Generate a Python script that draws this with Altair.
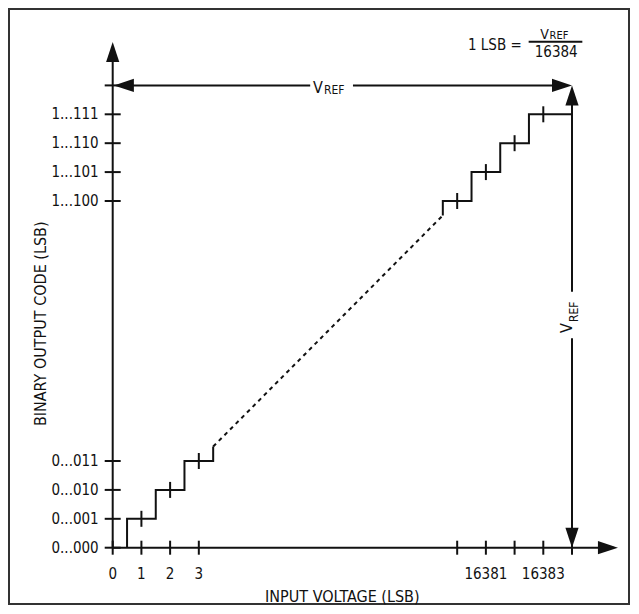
import altair as alt
import pandas as pd

# ---------------- data ----------------
x_tick_values = [0, 1, 2, 3, 16380, 16381, 16382, 16383, 16384]
x_tick_labels = ["0", "1", "2", "3", "", "16381", "", "16383", ""]
y_tick_values = [0, 1, 2, 3, 16380, 16381, 16382, 16383, 16384]
y_tick_labels = ["0...000", "0...001", "0...010", "0...011",
                 "1...100", "1...101", "1...110", "1...111", ""]
low_codes = [1, 2, 3]
high_codes = [16380, 16381, 16382, 16383]
full_scale = 16384          # V_REF expressed in LSB
x_title = "INPUT VOLTAGE (LSB)"
y_title = "BINARY OUTPUT CODE (LSB)"
lsb_text = "1 LSB ="
lsb_den = "16384"

# broken axes: values above the break are drawn shifted down by BREAK
BREAK = 16368


def P(v):
    return v - BREAK if v > 1000 else v


FONT = "DejaVu Sans Condensed, DejaVu Sans, sans-serif"
INK = "#111111"

W, H = 622, 597
xs = alt.Scale(domain=[0, 16], range=[104.7, 564.0], nice=False, zero=False, padding=0)
ys = alt.Scale(domain=[0, 15], range=[539.7, 106.3], nice=False, zero=False, padding=0)


def X(f="x"):
    return alt.X(f"{f}:Q", scale=xs, axis=None)


def Y(f="y"):
    return alt.Y(f"{f}:Q", scale=ys, axis=None)


# ---------------- staircase ----------------
rows = []
seg = [(0.5, 0)]
for k in low_codes:
    seg += [(k - 0.5, k), (k + 0.5, k)]
seg += [(low_codes[-1] + 0.5, low_codes[-1] + 0.5)]
for i, (a, b) in enumerate(seg):
    rows.append({"x": P(a), "y": P(b), "seg": "low", "i": i})
start = high_codes[0] - 0.5
seg = [(start, start)]
for k in high_codes:
    seg += [(k - 0.5, k), (full_scale if k == high_codes[-1] else k + 0.5, k)]
for i, (a, b) in enumerate(seg):
    rows.append({"x": P(a), "y": P(b), "seg": "high", "i": i})
stairs = pd.DataFrame(rows)

dash_df = pd.DataFrame({
    "x": [P(low_codes[-1] + 0.5), P(high_codes[0] - 0.5)],
    "y": [P(low_codes[-1] + 0.5), P(high_codes[0] - 0.5)],
    "i": [0, 1],
})

stair_layer = alt.Chart(stairs).mark_line(color=INK, strokeWidth=2, interpolate="linear").encode(
    x=X(), y=Y(), detail="seg:N", order="i:Q")
dash_layer = alt.Chart(dash_df).mark_line(color=INK, strokeWidth=2, strokeDash=[4, 4]).encode(
    x=X(), y=Y(), order="i:Q")

# ---------------- rules: axes, V_REF dimension lines, fraction bar ----------------
fs = P(full_scale)
rules = pd.DataFrame([
    {"x": 0, "x2": 17.45, "y": 0, "y2": 0},          # x axis
    {"x": 0, "x2": 0, "y": 0, "y2": 17.35},          # y axis
    {"x": 0.3, "x2": 6.88, "y": fs, "y2": fs},       # V_REF horizontal (left part)
    {"x": 8.37, "x2": fs - 0.3, "y": fs, "y2": fs},  # V_REF horizontal (right part)
    {"x": fs, "x2": fs, "y": 0.3, "y2": 7.25},       # V_REF vertical (lower part)
    {"x": fs, "x2": fs, "y": 8.86, "y2": fs - 0.3},  # V_REF vertical (upper part)
    {"x": 14.49, "x2": 16.36, "y": 17.51, "y2": 17.51},  # fraction bar
])
rule_layer = alt.Chart(rules).mark_rule(color=INK, strokeWidth=2).encode(
    x=X(), x2="x2:Q", y=Y(), y2="y2:Q")

# ---------------- tick marks ----------------
xt = pd.DataFrame({"x": [P(v) for v in x_tick_values], "y": 0, "lab": x_tick_labels})
yt = pd.DataFrame({"x": 0, "y": [P(v) for v in y_tick_values], "lab": y_tick_labels})
st = pd.DataFrame({"x": [P(k) for k in low_codes + high_codes],
                   "y": [P(k) for k in low_codes + high_codes]})

xtick_layer = alt.Chart(xt).mark_tick(orient="vertical", size=14, thickness=2, color=INK, opacity=1).encode(x=X(), y=Y())
ytick_layer = alt.Chart(yt).mark_tick(orient="horizontal", size=16, thickness=2, color=INK, opacity=1).encode(x=X(), y=Y())
stick_layer = alt.Chart(st).mark_tick(orient="vertical", size=16, thickness=2, color=INK, opacity=1).encode(x=X(), y=Y())

# ---------------- arrowheads ----------------
UP = "M0,0L0.33,1L-0.33,1Z"
DOWN = "M0,0L0.33,-1L-0.33,-1Z"
LEFT = "M0,0L1,-0.33L1,0.33Z"
RIGHT = "M0,0L-1,-0.33L-1,0.33Z"
arrows = pd.DataFrame({
    "x": [0, 17.6, 0.04, fs, fs, fs],
    "y": [17.5, 0, fs, fs, fs, 0],
    "shape": [UP, RIGHT, LEFT, RIGHT, UP, DOWN],
})
arrow_layer = alt.Chart(arrows).mark_point(filled=True, size=1600, opacity=1, color=INK, strokeWidth=0).encode(
    x=X(), y=Y(), shape=alt.Shape("shape:N", scale=None))


# ---------------- text ----------------
def text_layer(df, **kw):
    base = dict(font=FONT, color=INK, fontSize=15, baseline="alphabetic")
    base.update(kw)
    return alt.Chart(df).mark_text(**base).encode(x=X(), y=Y(), text="t:N")


xlab = text_layer(xt.rename(columns={"lab": "t"}), align="center", dy=31.5)
ylab = text_layer(yt.rename(columns={"lab": "t"}), align="right", baseline="middle", dx=-14)
xtitle = text_layer(pd.DataFrame({"x": [8], "y": [0], "t": [x_title]}), align="center", dy=54, fontSize=16)
ytitle = text_layer(pd.DataFrame({"x": [-2.32], "y": [7.75], "t": [y_title]}), align="center", angle=270, fontSize=16)

vref_h_v = text_layer(pd.DataFrame({"x": [6.98], "y": [fs], "t": ["V"]}), align="left", dy=7.3, fontSize=16)
vref_h_r = text_layer(pd.DataFrame({"x": [7.36], "y": [fs], "t": ["REF"]}), align="left", dy=8.3, fontSize=12)
vref_v_v = text_layer(pd.DataFrame({"x": [16.0], "y": [7.43], "t": ["V"]}), align="left", angle=270, fontSize=16)
vref_v_r = text_layer(pd.DataFrame({"x": [16.2], "y": [7.81], "t": ["REF"]}), align="left", angle=270, fontSize=12)

lsb_l = text_layer(pd.DataFrame({"x": [14.25], "y": [17.23], "t": [lsb_text]}), align="right")
num_v = text_layer(pd.DataFrame({"x": [14.89], "y": [17.6], "t": ["V"]}), align="left", fontSize=14)
num_r = text_layer(pd.DataFrame({"x": [15.22], "y": [17.59], "t": ["REF"]}), align="left", fontSize=11)
den = text_layer(pd.DataFrame({"x": [15.45], "y": [16.99], "t": [lsb_den]}), align="center")

chart = alt.layer(
    rule_layer, stair_layer, dash_layer, xtick_layer, ytick_layer, stick_layer, arrow_layer,
    xlab, ylab, xtitle, ytitle, vref_h_v, vref_h_r, vref_v_v, vref_v_r, lsb_l, num_v, num_r, den,
).properties(
    width=W, height=H,
    autosize=alt.AutoSizeParams(type="none"),
    padding=0,
).configure_view(
    stroke="#333333", strokeWidth=4,
)

chart.save("out.html", embed_options={"renderer": "svg", "actions": False})
